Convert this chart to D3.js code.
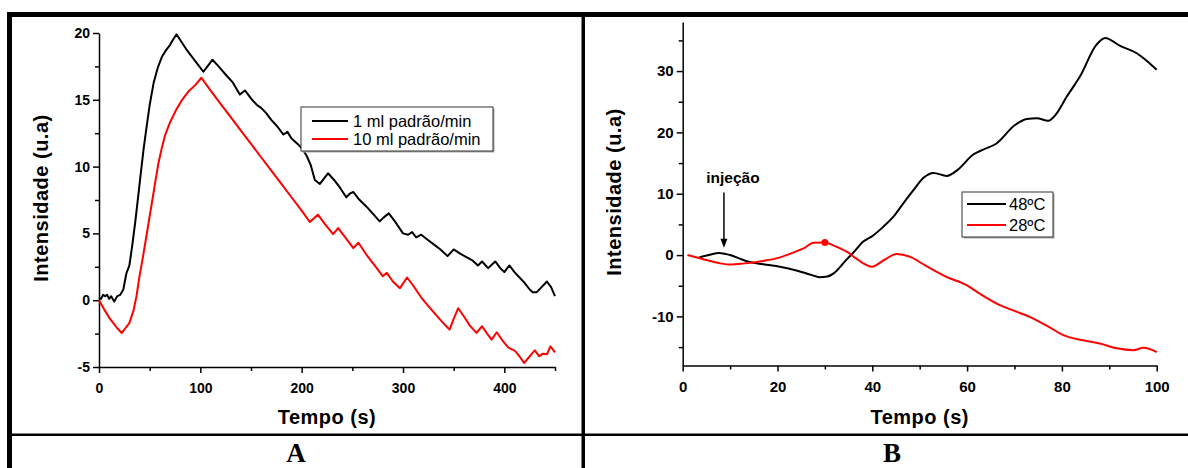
<!DOCTYPE html>
<html>
<head>
<meta charset="utf-8">
<script src="https://cdn.jsdelivr.net/npm/d3@7"></script>
<style>
    body { margin: 0; background: #fff; }
    svg { display: block; font-family: Arial, "Liberation Sans", sans-serif; }
    .tick text { font-weight: bold; fill: #000; }
</style>
</head>
<body>
<svg id="chart"></svg>
<script>
// panel A: [tempo (s), intensidade]
const slow = [[0,0.2],[2,0.1],[4,0.4],[6,0.3],[8,0.4],[10,0.1],[12,0.3],[15,-0.1],[18,0.3],[21,0.4],[24,0.8],[27,2.0],[30,2.6],
    [33,4.2],[36,6],[39,8],[42,10],[44,11.3],[47,13],[50,14.6],[54,16.3],[58,17.4],[62,18.2],[66,18.7],[70,19.1],[73,19.5],
    [76.5,19.9],[80,19.5],[86,18.8],[92,18.2],[98,17.6],[103,17.1],[108,17.6],[112,18],[118,17.5],[126,16.8],[132,16.3],
    [139,15.4],[144,15.7],[150,15.1],[156,14.6],[160,14.4],[165,14],[170,13.5],[176,13],[182,12.4],[186,12.6],[190,12.1],
    [196,11.7],[201,11.3],[205,10.8],[209,10.1],[213,9.0],[218,8.7],[222,9.1],[226,9.5],[232,9],[238,8.4],[244,7.7],[248,8],
    [251,8.1],[256,7.6],[264,7.0],[270,6.5],[277,5.9],[281,6.2],[286,6.5],[292,5.9],[300,5.0],[305,4.9],[309,5.1],[313,4.7],
    [318,4.9],[323,4.6],[330,4.2],[337,3.8],[344,3.3],[350,3.8],[356,3.5],[363,3.2],[368,3.0],[374,2.6],[378,2.9],[384,2.4],
    [391,2.9],[396,2.4],[400,2.1],[405,2.6],[410,2.1],[415,1.7],[420,1.3],[425,0.8],[428,0.6],[432,0.6],[437,1.0],[442,1.4],
    [446,1.0],[450,0.3]];
const fast = [[0,0],[3,-0.4],[6,-0.8],[10,-1.3],[14,-1.7],[18,-2.1],[22.5,-2.45],[26,-2.1],[30,-1.7],[34,-0.8],[37,0.3],
    [40,1.8],[43.5,3.3],[47,4.9],[52,7.2],[55,8.6],[58.5,10.2],[62,11.4],[65,12.3],[70,13.3],[76.5,14.3],[82,15],[88,15.6],
    [95,16.1],[101,16.65],[110,15.7],[120,14.7],[130,13.7],[140,12.7],[150,11.7],[160,10.7],[170,9.7],[180,8.7],[192,7.5],
    [200,6.7],[208,5.85],[216,6.4],[223,5.7],[231,4.95],[236,5.4],[243,4.7],[251,3.9],[256,4.3],[264,3.4],[272,2.6],[280,1.8],
    [284,2.05],[290,1.4],[297,0.9],[304,1.7],[310,1.1],[318,0.2],[328,-0.7],[336,-1.4],[342,-1.9],[346,-2.2],[350,-1.4],
    [354.5,-0.6],[360,-1.2],[366,-1.9],[372.5,-2.45],[378,-1.95],[383,-2.5],[387.5,-2.95],[392.5,-2.4],[398,-3.0],[404,-3.55],
    [410.5,-3.8],[415,-4.2],[419.5,-4.7],[425,-4.2],[430,-3.75],[434.5,-4.2],[438,-4.0],[442,-4.05],[445.5,-3.45],[450,-3.9]];
const namesA = ["1 ml padrão/min", "10 ml padrão/min"];

// panel B
const hot = [[3.3,-0.45],[5.5,0],[7.7,0.35],[10,0],[13.5,-1.0],[17,-1.5],[20.5,-1.9],[24,-2.5],[27,-3.2],[28.9,-3.6],
    [30.5,-3.5],[32,-2.9],[34.6,-0.7],[36,0.4],[38.1,2.2],[40,3.1],[42.3,4.6],[44.5,6.3],[46.5,8.4],[48.8,10.7],[50.8,12.6],
    [52.9,13.4],[55.7,12.9],[58,13.9],[61.3,16.4],[63.4,17.2],[66.2,18.2],[70.1,21.2],[72.6,22.2],[74.7,22.3],[77.1,21.9],
    [78.9,23.1],[81,25.8],[83.8,29.1],[87.3,34.3],[89.1,35.4],[92.3,34.1],[95.8,32.9],[98,31.6],[100,30.2]];
const cold = [[1,0],[4,-0.6],[7.9,-1.35],[10.3,-1.55],[13,-1.35],[17,-0.95],[20,-0.5],[23.3,0.4],[25.5,1.1],[27.6,2.0],
    [30,2.05],[32,1.5],[34.6,0.55],[36.5,-0.5],[38.1,-1.35],[39.9,-1.9],[42.5,-0.8],[45.1,0.16],[48,-0.3],[51,-1.6],
    [55.5,-3.5],[59.9,-4.9],[62.7,-6.3],[66.9,-8.15],[70,-9.1],[73.3,-10.1],[77,-11.6],[80.3,-13.05],[84.5,-13.9],[88,-14.4],
    [91.6,-15.2],[95.1,-15.5],[97.2,-15.1],[100,-15.8]];
const namesB = ["48ºC", "28ºC"];
const marker = [30, 2.05];
const injection = 8.7;

const W = 1188, H = 468;
const svg = d3.select("#chart").attr("width", W).attr("height", H);

// frame
svg.append("rect").attr("x", 7).attr("y", 12).attr("width", W - 7).attr("height", 5);
svg.append("rect").attr("x", 7).attr("y", 12).attr("width", 5).attr("height", H - 12);
svg.append("rect").attr("x", 581.5).attr("y", 12).attr("width", 3.5).attr("height", H - 12);
svg.append("rect").attr("x", 12).attr("y", 433.5).attr("width", W - 12).attr("height", 2.5);

svg.append("text").attr("x", 296).attr("y", 462).attr("text-anchor", "middle")
    .style("font-family", "'Times New Roman', 'Liberation Serif', serif").style("font-weight", "bold")
    .style("font-size", "27px").text("A");
svg.append("text").attr("x", 892).attr("y", 462).attr("text-anchor", "middle")
    .style("font-family", "'Times New Roman', 'Liberation Serif', serif").style("font-weight", "bold")
    .style("font-size", "27px").text("B");

function panel(cfg) {
    const x = d3.scaleLinear().domain(cfg.xDomain).range(cfg.xRange);
    const y = d3.scaleLinear().domain(cfg.yDomain).range(cfg.yRange);
    const g = svg.append("g");

    const xMinor = g.append("g").attr("transform", `translate(0,${cfg.yRange[0]})`)
        .call(d3.axisBottom(x).tickValues(cfg.xMinor).tickSize(4).tickFormat(""));
    const yMinor = g.append("g").attr("transform", `translate(${cfg.xRange[0]},0)`)
        .call(d3.axisLeft(y).tickValues(cfg.yMinor).tickSize(4).tickFormat(""));
    const xAxis = g.append("g").attr("transform", `translate(0,${cfg.yRange[0]})`)
        .call(d3.axisBottom(x).tickValues(cfg.xTicks).tickSize(6).tickSizeOuter(0).tickPadding(10));
    const yAxis = g.append("g").attr("transform", `translate(${cfg.xRange[0]},0)`)
        .call(d3.axisLeft(y).tickValues(cfg.yTicks).tickSize(6).tickSizeOuter(0).tickPadding(3).tickFormat(d3.format("d")));
    [xMinor, yMinor, xAxis, yAxis].forEach(a => {
        a.selectAll("path, line").attr("stroke", "#000").attr("stroke-width", 1.5);
        a.selectAll("text").style("font-size", cfg.tickFont).attr("font-family", null);
    });
    yAxis.selectAll("text").text(d => d < 0 ? "-" + Math.abs(d) : d);
    xMinor.select(".domain").remove();
    yMinor.select(".domain").remove();

    g.append("text").attr("x", (cfg.xRange[0] + cfg.xRange[1]) / 2).attr("y", 424)
        .attr("text-anchor", "middle").style("font-weight", "bold").style("font-size", "20px")
        .style("letter-spacing", "0.5px").text("Tempo (s)");
    g.append("text").attr("transform", `translate(${cfg.yTitleX},${cfg.yTitleY}) rotate(-90)`)
        .attr("text-anchor", "middle").style("font-weight", "bold").style("font-size", "20px")
        .style("letter-spacing", "0.5px").text("Intensidade (u.a)");

    const line = d3.line().x(d => x(d[0])).y(d => y(d[1])).curve(cfg.curve);
    cfg.series.forEach((s, i) => {
        g.append("path").datum(s).attr("fill", "none")
            .attr("stroke", i === 0 ? "#000" : "#ff0000").attr("stroke-width", 2)
            .attr("stroke-linejoin", "round").attr("d", line);
    });

    // legend
    const lg = cfg.legend;
    g.append("rect").attr("x", lg.x + 1.5).attr("y", lg.y + 1.5).attr("width", lg.w).attr("height", lg.h).attr("fill", "#aaa");
    g.append("rect").attr("x", lg.x).attr("y", lg.y).attr("width", lg.w).attr("height", lg.h)
        .attr("fill", "#fff").attr("stroke", "#333").attr("stroke-width", 1);
    cfg.names.forEach((n, i) => {
        const ly = lg.y + lg.row0 + i * lg.step;
        g.append("line").attr("x1", lg.x + lg.l0).attr("x2", lg.x + lg.l1).attr("y1", ly).attr("y2", ly)
            .attr("stroke", i === 0 ? "#000" : "#ff0000").attr("stroke-width", 2);
        g.append("text").attr("x", lg.x + lg.tx).attr("y", ly + 5.5).style("font-size", "16.5px").text(n);
    });
    return {g, x, y};
}

panel({
    xDomain: [0, 450], xRange: [99, 555], yDomain: [-5, 20], yRange: [367, 33],
    xTicks: [0, 100, 200, 300, 400], xMinor: [50, 150, 250, 350, 450],
    yTicks: [-5, 0, 5, 10, 15, 20], yMinor: [-2.5, 2.5, 7.5, 12.5, 17.5],
    tickFont: "14px", yTitleX: 48, yTitleY: 198, curve: d3.curveLinear,
    series: [slow, fast], names: namesA,
    legend: {x: 301, y: 107, w: 192, h: 44, row0: 14, step: 18, l0: 11, l1: 47, tx: 52}
});

const pB = panel({
    xDomain: [0, 100], xRange: [682.7, 1156.7], yDomain: [-18, 38], yRange: [365.5, 22],
    xTicks: [0, 20, 40, 60, 80, 100], xMinor: [10, 30, 50, 70, 90],
    yTicks: [-10, 0, 10, 20, 30], yMinor: [-15, -5, 5, 15, 25, 35],
    tickFont: "15px", yTitleX: 621, yTitleY: 192, curve: d3.curveMonotoneX,
    series: [hot, cold], names: namesB,
    legend: {x: 962, y: 192, w: 91, h: 45, row0: 12, step: 21, l0: 5, l1: 44, tx: 47}
});

pB.g.append("circle").attr("cx", pB.x(marker[0])).attr("cy", pB.y(marker[1])).attr("r", 3.5).attr("fill", "#ff0000");
pB.g.append("line").attr("x1", pB.x(injection)).attr("x2", pB.x(injection))
    .attr("y1", pB.y(10.2)).attr("y2", pB.y(1.8)).attr("stroke", "#000").attr("stroke-width", 1.5);
const ax = pB.x(injection), ay = pB.y(1.2);
pB.g.append("path").attr("d", `M${ax},${ay} L${ax - 3.5},${ay - 9} L${ax + 3.5},${ay - 9} Z`).attr("fill", "#000");
pB.g.append("text").attr("x", pB.x(10.6)).attr("y", 183).attr("text-anchor", "middle")
    .style("font-weight", "bold").style("font-size", "15.5px").text("injeção");
</script>
</body>
</html>
